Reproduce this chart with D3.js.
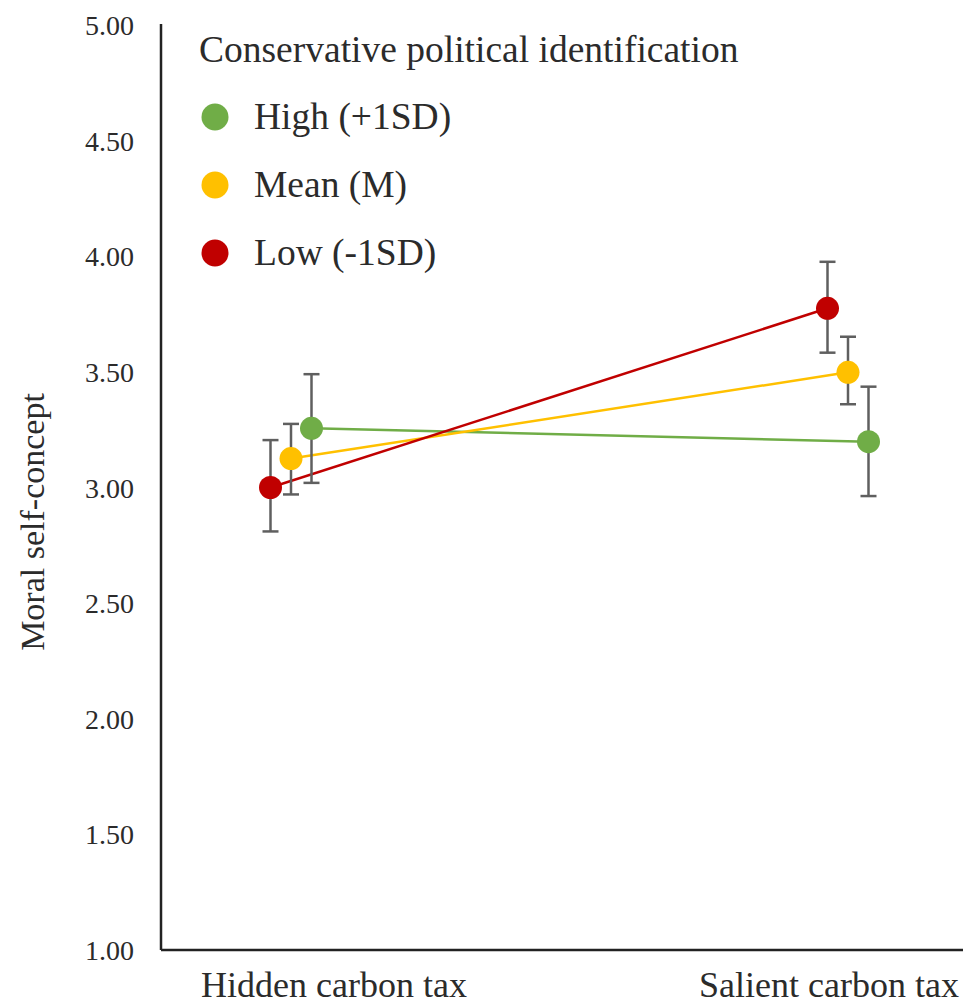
<!DOCTYPE html>
<html><head><meta charset="utf-8">
<script src="https://cdn.jsdelivr.net/npm/d3@7/dist/d3.min.js"></script>
<style>body{margin:0;background:#fff}svg{display:block}text{font-family:"Liberation Serif","Times New Roman",serif;fill:#2b2b2b}</style>
</head><body><svg id="c" width="963" height="1004"></svg>
<script>
const categories = ["Hidden carbon tax", "Salient carbon tax"];
const seriesNames = ["High (+1SD)", "Mean (M)", "Low (-1SD)"];
const seriesColors = ["#70AD47", "#FFC000", "#C00000"];
const highVals = [3.256, 3.198];
const meanVals = [3.125, 3.498];
const lowVals = [3.00, 3.775];
const highLo = [3.02, 2.963], highHi = [3.49, 3.436];
const meanLo = [2.97, 3.36], meanHi = [3.275, 3.652];
const lowLo = [2.81, 3.583], lowHi = [3.205, 3.976];
const yTicks = [1.00, 1.50, 2.00, 2.50, 3.00, 3.50, 4.00, 4.50, 5.00];
const legendTitle = "Conservative political identification";
const yTitle = "Moral self-concept";

const series = [
  {name: seriesNames[0], color: seriesColors[0], vals: highVals, lo: highLo, hi: highHi, off: 1},
  {name: seriesNames[1], color: seriesColors[1], vals: meanVals, lo: meanLo, hi: meanHi, off: 0},
  {name: seriesNames[2], color: seriesColors[2], vals: lowVals, lo: lowLo, hi: lowHi, off: -1}
];

const svg = d3.select("#c");
const mLeft = 161, mTop = 25, mBottom = 950;
const y = d3.scaleLinear().domain([1, 5]).range([mBottom, mTop]);
const x = d3.scalePoint().domain(categories).range([291, 848]);
const dx = 20.5;
const serif = '"Liberation Serif","Times New Roman",serif';

// y axis
const yAxis = d3.axisLeft(y).tickValues(yTicks).tickFormat(d3.format(".2f")).tickSize(0).tickPadding(27);
const gy = svg.append("g").attr("transform", `translate(${mLeft},0)`).call(yAxis)
  .attr("font-family", serif).attr("font-size", 28);
gy.select(".domain").attr("stroke", "#222").attr("stroke-width", 2.5).attr("d", `M0,${mTop - 1}V${mBottom}`);
gy.selectAll("text").attr("fill", "#333").attr("dy", "0.34em");

// x axis
svg.append("line").attr("x1", mLeft).attr("x2", 963).attr("y1", mBottom).attr("y2", mBottom)
  .attr("stroke", "#222").attr("stroke-width", 2.5);
const labelX = {"Hidden carbon tax": 334, "Salient carbon tax": 829};
svg.selectAll(".xl").data(categories).enter().append("text")
  .attr("x", d => labelX[d]).attr("y", 997).attr("text-anchor", "middle")
  .style("font-size", "36px").text(d => d);

// y title
svg.append("text").attr("transform", "translate(44,522) rotate(-90)").attr("text-anchor", "middle")
  .style("font-size", "34px").text(yTitle);

// lines
const line = d3.line().x(d => d.x).y(d => y(d.v));
series.forEach(s => {
  const pts = categories.map((c, i) => ({x: x(c) + s.off * dx, v: s.vals[i]}));
  svg.append("path").attr("d", line(pts)).attr("fill", "none").attr("stroke", s.color).attr("stroke-width", 2.5);
});
// error bars
series.forEach(s => {
  categories.forEach((c, i) => {
    const cx = x(c) + s.off * dx;
    const g = svg.append("g").attr("stroke", "#5f5f5f").attr("stroke-width", 2.5);
    g.append("line").attr("x1", cx).attr("x2", cx).attr("y1", y(s.lo[i])).attr("y2", y(s.hi[i]));
    g.append("line").attr("x1", cx - 8).attr("x2", cx + 8).attr("y1", y(s.lo[i])).attr("y2", y(s.lo[i]));
    g.append("line").attr("x1", cx - 8).attr("x2", cx + 8).attr("y1", y(s.hi[i])).attr("y2", y(s.hi[i]));
  });
});
// markers
series.forEach(s => {
  svg.selectAll(null).data(categories).enter().append("circle")
    .attr("cx", (c) => x(c) + s.off * dx).attr("cy", (c, i) => y(s.vals[i])).attr("r", 11.5)
    .attr("fill", s.color);
});

// legend
svg.append("text").attr("x", 199).attr("y", 62).style("font-size", "37.5px").text(legendTitle);
series.forEach((s, i) => {
  const ly = 117 + i * 68;
  svg.append("circle").attr("cx", 215).attr("cy", ly).attr("r", 13.5).attr("fill", s.color);
  svg.append("text").attr("x", 254).attr("y", ly + 12).style("font-size", "37.5px").text(s.name);
});
</script></body></html>
